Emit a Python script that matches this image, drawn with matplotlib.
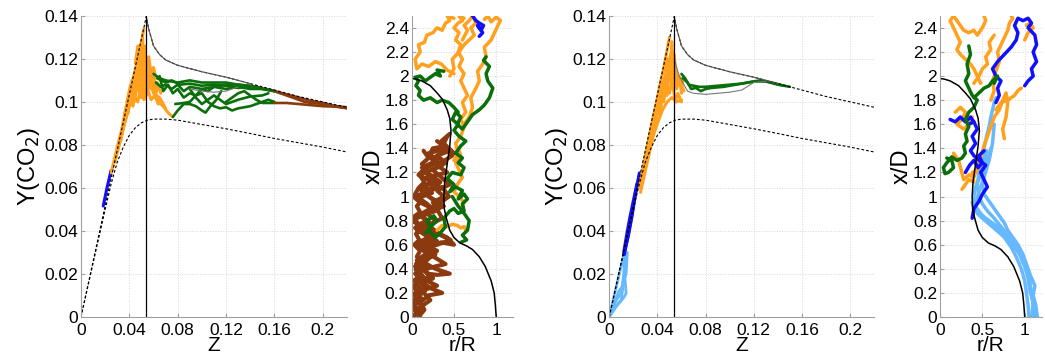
import numpy as np
import matplotlib
matplotlib.use('Agg')
import matplotlib.pyplot as plt

plt.rcParams['font.family'] = ['Liberation Sans', 'DejaVu Sans']

# colours
ORANGE = '#ffa01e'
GREEN = '#0a6e0a'
BROWN = '#8b3a0f'
BLUE = '#1010ff'
LBLUE = '#66b8ff'

# ---- mixture fraction space: reference curves ----
Z_stoich = 0.054
Z_upper = [0, 0.054, 0.056, 0.06, 0.065, 0.07, 0.08, 0.1, 0.12, 0.14, 0.16, 0.18, 0.2, 0.22]
Y_upper = [0, 0.1396, 0.134, 0.126, 0.122, 0.1195, 0.117, 0.114, 0.1115, 0.1085, 0.1055, 0.1025, 0.1, 0.0975]
Z_lower = [0, 0.01, 0.02, 0.025, 0.03, 0.035, 0.04, 0.045, 0.05, 0.055, 0.06, 0.07,
           0.08, 0.1, 0.12, 0.14, 0.16, 0.18, 0.2, 0.22]
Y_lower = [0, 0.025, 0.05, 0.062, 0.072, 0.079, 0.0845, 0.088, 0.0903, 0.0915, 0.092, 0.092,
           0.0915, 0.0895, 0.0875, 0.0853, 0.083, 0.081, 0.079, 0.0767]
Z_solid = [0.054, 0.056, 0.06, 0.065, 0.07, 0.08, 0.1, 0.12, 0.14]
Y_solid = [0.1396, 0.134, 0.126, 0.122, 0.1195, 0.117, 0.114, 0.1115, 0.1085]

# ---- panel 1 trajectories (Z, Y) ----
p1_blue = [([0.0184, 0.0215, 0.0248], [0.0516, 0.06, 0.068])]
p1_orange = [
    ([0.025, 0.03, 0.034, 0.037, 0.041, 0.044, 0.047, 0.05, 0.052],
     [0.067, 0.079, 0.088, 0.097, 0.106, 0.113, 0.12, 0.128, 0.134]),
    ([0.028, 0.033, 0.036, 0.04, 0.043, 0.046, 0.049, 0.051, 0.053, 0.055, 0.058, 0.061, 0.064, 0.068, 0.072, 0.076],
     [0.072, 0.083, 0.09, 0.098, 0.104, 0.11, 0.117, 0.122, 0.118, 0.114, 0.108, 0.104, 0.1, 0.098, 0.095, 0.093]),
    ([0.038, 0.041, 0.043, 0.046, 0.048, 0.05, 0.051, 0.053, 0.054, 0.056, 0.058, 0.06, 0.062, 0.064],
     [0.1, 0.108, 0.104, 0.116, 0.108, 0.124, 0.11, 0.126, 0.108, 0.118, 0.106, 0.112, 0.104, 0.108]),
    ([0.04, 0.044, 0.047, 0.05, 0.052, 0.055, 0.058, 0.061, 0.064, 0.067],
     [0.099, 0.103, 0.1, 0.108, 0.101, 0.106, 0.101, 0.103, 0.099, 0.1]),
    ([0.045, 0.047, 0.049, 0.051, 0.052, 0.053, 0.055, 0.057, 0.059],
     [0.118, 0.126, 0.112, 0.13, 0.114, 0.12, 0.11, 0.114, 0.11]),
    ([0.042, 0.045, 0.048, 0.05, 0.052, 0.054, 0.057, 0.06, 0.063, 0.066],
     [0.11, 0.104, 0.114, 0.102, 0.112, 0.103, 0.109, 0.107, 0.109, 0.104]),
    ([0.036, 0.04, 0.043, 0.046, 0.049, 0.052, 0.054, 0.056, 0.058, 0.06, 0.062],
     [0.094, 0.103, 0.098, 0.108, 0.104, 0.119, 0.115, 0.121, 0.113, 0.116, 0.111]),
    ([0.03, 0.034, 0.037, 0.04, 0.043, 0.045, 0.048, 0.05],
     [0.077, 0.086, 0.092, 0.1, 0.107, 0.103, 0.112, 0.107]),
    ([0.033, 0.036, 0.039, 0.041, 0.044, 0.046, 0.049, 0.051, 0.053, 0.056, 0.06, 0.065, 0.07],
     [0.082, 0.092, 0.095, 0.104, 0.1, 0.112, 0.106, 0.118, 0.104, 0.112, 0.104, 0.102, 0.097]),
]
p1_green = [
    ([0.06, 0.065, 0.07, 0.08, 0.09, 0.1, 0.11, 0.12, 0.13, 0.14, 0.15, 0.16, 0.165],
     [0.113, 0.111, 0.11, 0.109, 0.11, 0.109, 0.109, 0.109, 0.108, 0.1075, 0.106, 0.105, 0.104]),
    ([0.062, 0.066, 0.07, 0.075, 0.08, 0.085, 0.09, 0.1, 0.11, 0.12, 0.13, 0.14, 0.15, 0.16],
     [0.109, 0.107, 0.108, 0.106, 0.108, 0.105, 0.107, 0.106, 0.107, 0.106, 0.107, 0.106, 0.106, 0.105]),
    ([0.065, 0.068, 0.072, 0.076, 0.08, 0.085, 0.09, 0.095, 0.1, 0.105, 0.11, 0.12, 0.13, 0.145, 0.16],
     [0.112, 0.105, 0.108, 0.104, 0.106, 0.102, 0.104, 0.103, 0.106, 0.105, 0.107, 0.108, 0.108, 0.107, 0.105]),
    ([0.076, 0.08, 0.085, 0.09, 0.095, 0.1, 0.103, 0.107, 0.112, 0.116],
     [0.093, 0.096, 0.099, 0.099, 0.098, 0.096, 0.095, 0.098, 0.101, 0.105]),
    ([0.078, 0.085, 0.09, 0.095, 0.1, 0.105, 0.11, 0.115, 0.12, 0.125, 0.13, 0.14, 0.15, 0.155, 0.16],
     [0.099, 0.0995, 0.1, 0.103, 0.104, 0.1, 0.098, 0.097, 0.0975, 0.096, 0.097, 0.098, 0.1, 0.101, 0.1]),
    ([0.09, 0.095, 0.1, 0.105, 0.11, 0.115, 0.12, 0.13, 0.14, 0.15, 0.155],
     [0.106, 0.102, 0.099, 0.101, 0.103, 0.101, 0.099, 0.101, 0.1025, 0.103, 0.104]),
    ([0.12, 0.125, 0.13, 0.135, 0.14, 0.145, 0.15, 0.16],
     [0.1, 0.102, 0.104, 0.105, 0.103, 0.101, 0.0995, 0.0995]),
    ([0.063, 0.07, 0.075, 0.082, 0.09, 0.1, 0.11, 0.12, 0.13, 0.14],
     [0.111, 0.109, 0.11, 0.108, 0.1085, 0.1075, 0.108, 0.1075, 0.1065, 0.1068]),
]
p1_brown = [
    ([0.16, 0.17, 0.18, 0.19, 0.2, 0.21, 0.22], [0.105, 0.1035, 0.102, 0.1005, 0.0995, 0.098, 0.097]),
    ([0.16, 0.17, 0.18, 0.19, 0.2, 0.21, 0.22], [0.0995, 0.0995, 0.099, 0.0985, 0.098, 0.0978, 0.0972]),
    ([0.165, 0.175, 0.185, 0.19, 0.2, 0.21, 0.22], [0.104, 0.102, 0.1, 0.0995, 0.099, 0.098, 0.0975]),
]
p1_gray = ([0.09, 0.1, 0.11, 0.12, 0.13], [0.106, 0.105, 0.1045, 0.105, 0.107])

# ---- panel 3 trajectories (Z, Y) ----
p3_lblue = [
    ([0, 0.005, 0.01, 0.013], [0, 0.012, 0.024, 0.03]),
    ([0, 0.006, 0.012, 0.014, 0.013, 0.014, 0.012], [0, 0.005, 0.009, 0.011, 0.018, 0.024, 0.03]),
    ([0.002, 0.008, 0.012, 0.013, 0.011], [0.003, 0.012, 0.015, 0.022, 0.026]),
    ([0.004, 0.01, 0.012, 0.014, 0.015], [0.004, 0.008, 0.017, 0.02, 0.03]),
    ([0.001, 0.006, 0.01, 0.012, 0.013], [0.002, 0.008, 0.011, 0.02, 0.028]),
]
p3_blue = [
    ([0.0125, 0.015, 0.018, 0.021, 0.024, 0.025], [0.029, 0.036, 0.045, 0.055, 0.064, 0.067]),
    ([0.013, 0.016, 0.019, 0.022, 0.025], [0.031, 0.038, 0.047, 0.058, 0.066]),
    ([0.012, 0.015, 0.017, 0.02, 0.023], [0.03, 0.04, 0.046, 0.054, 0.062]),
]
p3_orange = [
    ([0.025, 0.03, 0.035, 0.04, 0.045, 0.05], [0.06, 0.075, 0.089, 0.102, 0.115, 0.13]),
    ([0.026, 0.03, 0.034, 0.037, 0.04, 0.044, 0.048, 0.052, 0.056, 0.06],
     [0.058, 0.068, 0.078, 0.085, 0.09, 0.096, 0.1, 0.102, 0.1, 0.101]),
    ([0.03, 0.034, 0.038, 0.041, 0.044, 0.047, 0.05, 0.052, 0.054, 0.056, 0.06, 0.062],
     [0.072, 0.082, 0.093, 0.1, 0.107, 0.113, 0.12, 0.124, 0.118, 0.112, 0.108, 0.105]),
    ([0.035, 0.039, 0.042, 0.045, 0.048, 0.05, 0.052, 0.054, 0.056, 0.058, 0.06],
     [0.085, 0.096, 0.094, 0.106, 0.103, 0.116, 0.108, 0.122, 0.106, 0.112, 0.104]),
    ([0.04, 0.043, 0.046, 0.048, 0.05, 0.052, 0.053, 0.055, 0.057, 0.059, 0.061],
     [0.1, 0.11, 0.105, 0.12, 0.11, 0.128, 0.112, 0.116, 0.108, 0.111, 0.109]),
    ([0.045, 0.048, 0.05, 0.052, 0.055, 0.057, 0.06], [0.1, 0.108, 0.104, 0.11, 0.1, 0.104, 0.1]),
    ([0.028, 0.032, 0.036, 0.038, 0.042, 0.046, 0.049], [0.068, 0.077, 0.084, 0.092, 0.098, 0.108, 0.11]),
    ([0.032, 0.035, 0.038, 0.04, 0.043, 0.046, 0.048, 0.051, 0.054, 0.058],
     [0.074, 0.084, 0.088, 0.096, 0.1, 0.104, 0.114, 0.116, 0.11, 0.108]),
]
p3_green = [
    ([0.06, 0.063, 0.066, 0.07, 0.075, 0.08, 0.09, 0.1, 0.11, 0.12, 0.13, 0.14, 0.15],
     [0.113, 0.111, 0.108, 0.1075, 0.107, 0.107, 0.1075, 0.108, 0.1085, 0.1095, 0.1095, 0.108, 0.107]),
    ([0.061, 0.065, 0.068, 0.072, 0.076, 0.08, 0.085, 0.095, 0.105, 0.115, 0.125, 0.135, 0.145],
     [0.111, 0.109, 0.106, 0.1065, 0.105, 0.106, 0.1065, 0.107, 0.108, 0.109, 0.11, 0.109, 0.1075]),
]
p3_gray = ([0.054, 0.058, 0.063, 0.065, 0.07, 0.08, 0.09, 0.1, 0.11, 0.12, 0.13],
           [0.12, 0.112, 0.107, 0.105, 0.104, 0.1035, 0.104, 0.1045, 0.1055, 0.109, 0.1095])

# ---- physical space: r/R vs x/D ----
r_line = [1.0, 0.99, 0.976, 0.94, 0.87, 0.8, 0.72, 0.65, 0.57, 0.5, 0.45, 0.41, 0.385, 0.38,
          0.39, 0.42, 0.45, 0.465, 0.45, 0.42, 0.36, 0.3, 0.22, 0.12, 0.05, 0.0]
xD_line = [0.0, 0.1, 0.2, 0.3, 0.42, 0.5, 0.56, 0.59, 0.615, 0.66, 0.72, 0.82, 0.9, 1.0,
           1.12, 1.27, 1.42, 1.55, 1.65, 1.72, 1.81, 1.86, 1.92, 1.96, 1.975, 1.98]

p2_brown = [
    ([0.02, 0.06, 0.03, 0.08, 0.02, 0.1, 0.05, 0.14, 0.08, 0.04, 0.12, 0.06, 0.1, 0.03, 0.09,
      0.05, 0.13, 0.07, 0.02, 0.1, 0.06, 0.12, 0.04, 0.08, 0.15, 0.1, 0.18, 0.12, 0.2, 0.14],
     [0.0, 0.05, 0.1, 0.14, 0.19, 0.23, 0.28, 0.32, 0.37, 0.42, 0.46, 0.5, 0.55, 0.6, 0.64,
      0.69, 0.73, 0.78, 0.83, 0.87, 0.92, 0.97, 1.02, 1.07, 1.12, 1.17, 1.22, 1.27, 1.32, 1.38]),
    ([0.08, 0.15, 0.1, 0.2, 0.36, 0.22, 0.12, 0.25, 0.18, 0.3, 0.45, 0.28, 0.15, 0.22, 0.3, 0.2,
      0.35, 0.5, 0.42, 0.3, 0.2, 0.28, 0.18, 0.32, 0.25, 0.38, 0.3, 0.45, 0.35, 0.25, 0.4, 0.3,
      0.45, 0.5, 0.38, 0.42],
     [0.0, 0.06, 0.12, 0.18, 0.2, 0.24, 0.28, 0.32, 0.36, 0.35, 0.36, 0.4, 0.45, 0.5, 0.55, 0.58,
      0.62, 0.6, 0.66, 0.7, 0.74, 0.8, 0.86, 0.9, 0.95, 1.0, 1.05, 1.1, 1.16, 1.22, 1.28, 1.34,
      1.38, 1.36, 1.44, 1.5]),
    ([0.0, 0.04, 0.12, 0.05, 0.2, 0.1, 0.25, 0.15, 0.05, 0.18, 0.28, 0.15, 0.08, 0.2, 0.3, 0.1,
      0.0, 0.15, 0.25, 0.1, 0.02, 0.2, 0.32, 0.22, 0.08, 0.15, 0.3, 0.2, 0.25, 0.4, 0.35, 0.45],
     [0.05, 0.1, 0.15, 0.2, 0.25, 0.3, 0.33, 0.38, 0.44, 0.48, 0.52, 0.57, 0.62, 0.66, 0.7, 0.76,
      0.8, 0.85, 0.9, 0.95, 1.0, 1.04, 1.08, 1.13, 1.18, 1.23, 1.28, 1.33, 1.4, 1.42, 1.46, 1.52]),
    ([0.05, 0.12, 0.06, 0.16, 0.1, 0.22, 0.14, 0.06, 0.18, 0.1, 0.26, 0.16, 0.04, 0.2, 0.12,
      0.28, 0.18, 0.08, 0.24, 0.14, 0.34, 0.22, 0.12, 0.3, 0.2, 0.42, 0.3],
     [0.02, 0.08, 0.16, 0.22, 0.29, 0.34, 0.4, 0.47, 0.53, 0.6, 0.64, 0.68, 0.74, 0.79, 0.84,
      0.88, 0.94, 0.99, 1.03, 1.09, 1.12, 1.18, 1.24, 1.3, 1.36, 1.4, 1.46]),
    ([0.0, 0.08, 0.02, 0.12, 0.04, 0.2, 0.08, 0.24, 0.12, 0.3, 0.18, 0.06, 0.22, 0.1, 0.38,
      0.24, 0.14, 0.32, 0.18, 0.42, 0.3, 0.48, 0.36],
     [0.12, 0.18, 0.26, 0.3, 0.36, 0.41, 0.46, 0.52, 0.58, 0.63, 0.68, 0.72, 0.78, 0.84, 0.92,
      0.98, 1.04, 1.1, 1.16, 1.2, 1.26, 1.34, 1.42]),
    ([0.02, 0.1, 0.05, 0.15, 0.08, 0.2, 0.12, 0.04, 0.16, 0.26, 0.14, 0.06, 0.18, 0.1, 0.22,
      0.32, 0.2, 0.1, 0.26, 0.16, 0.36, 0.26, 0.4],
     [0.3, 0.34, 0.39, 0.43, 0.48, 0.52, 0.56, 0.6, 0.63, 0.67, 0.71, 0.76, 0.8, 0.85, 0.9,
      0.95, 1.0, 1.06, 1.14, 1.2, 1.26, 1.32, 1.38]),
    ([0.1, 0.04, 0.14, 0.22, 0.12, 0.3, 0.18, 0.08, 0.28, 0.4, 0.26, 0.14, 0.3, 0.46, 0.34,
      0.2, 0.36, 0.28, 0.44, 0.36],
     [0.0, 0.06, 0.1, 0.14, 0.22, 0.26, 0.3, 0.38, 0.42, 0.44, 0.5, 0.56, 0.6, 0.64, 0.68,
      0.76, 0.82, 0.92, 1.0, 1.08]),
]
p2_orange = [
    ([0.3, 0.36, 0.42, 0.48, 0.54, 0.58, 0.62, 0.64], [0.72, 0.76, 0.75, 0.77, 0.76, 0.74, 0.75, 0.72]),
    ([0.5, 0.55, 0.52, 0.58, 0.62, 0.58, 0.64, 0.6, 0.66, 0.62, 0.58, 0.62, 0.56, 0.6, 0.55, 0.58,
      0.52, 0.56, 0.5, 0.55, 0.6, 0.56, 0.62],
     [1.3, 1.36, 1.44, 1.5, 1.58, 1.64, 1.7, 1.78, 1.84, 1.9, 1.96, 2.02, 2.08, 2.14, 2.2, 2.26,
      2.3, 2.36, 2.4, 2.44, 2.46, 2.5, 2.48]),
    ([0.5, 0.42, 0.35, 0.28, 0.2, 0.12, 0.06, 0.04, 0.1, 0.08, 0.15, 0.18, 0.25, 0.3, 0.36, 0.4,
      0.45, 0.42, 0.5],
     [2.02, 2.05, 2.1, 2.12, 2.08, 2.1, 2.06, 2.14, 2.2, 2.26, 2.28, 2.34, 2.36, 2.4, 2.38, 2.44,
      2.46, 2.5, 2.48]),
    ([0.62, 0.68, 0.72, 0.7, 0.76, 0.8, 0.78, 0.84, 0.88, 0.86, 0.94, 0.98, 1.02, 1.05, 1.0, 0.94,
      0.9, 0.86],
     [1.6, 1.66, 1.74, 1.82, 1.9, 1.96, 2.04, 2.1, 2.16, 2.24, 2.3, 2.36, 2.42, 2.46, 2.49, 2.45,
      2.5, 2.47]),
    ([0.45, 0.5, 0.48, 0.56, 0.62, 0.68, 0.74, 0.7, 0.76, 0.72, 0.68, 0.62, 0.66, 0.6],
     [2.0, 2.06, 2.14, 2.2, 2.26, 2.3, 2.34, 2.4, 2.44, 2.5, 2.46, 2.42, 2.38, 2.3]),
    ([0.55, 0.58, 0.52, 0.56, 0.6, 0.54, 0.5, 0.56, 0.62, 0.58],
     [1.4, 1.34, 1.28, 1.22, 1.16, 1.1, 1.04, 1.0, 0.95, 0.9]),
]
p2_green = [
    ([0.16, 0.22, 0.18, 0.26, 0.3, 0.24, 0.2, 0.28, 0.34, 0.4, 0.38, 0.45, 0.5, 0.55, 0.62, 0.6,
      0.66, 0.62, 0.55, 0.6, 0.52, 0.45, 0.5, 0.42, 0.48, 0.58, 0.62, 0.55, 0.6, 0.52, 0.58, 0.64,
      0.56, 0.5, 0.55, 0.48, 0.52, 0.58, 0.54, 0.6, 0.66, 0.72, 0.8, 0.86, 0.92, 0.96, 0.9, 0.88,
      0.92, 0.85, 0.88],
     [0.7, 0.74, 0.8, 0.84, 0.8, 0.76, 0.72, 0.66, 0.7, 0.75, 0.82, 0.88, 0.9, 0.86, 0.88, 0.94,
      0.98, 1.02, 0.98, 1.05, 1.08, 1.04, 1.1, 1.15, 1.2, 1.18, 1.24, 1.28, 1.32, 1.36, 1.42, 1.46,
      1.5, 1.55, 1.6, 1.64, 1.7, 1.66, 1.6, 1.56, 1.62, 1.68, 1.72, 1.76, 1.82, 1.9, 1.96, 2.02,
      2.08, 2.13, 2.16]),
    ([0.55, 0.5, 0.44, 0.36, 0.3, 0.22, 0.14, 0.08, 0.1, 0.05, 0.08, 0.04, 0.1, 0.16, 0.22, 0.28,
      0.34, 0.3, 0.38],
     [1.7, 1.74, 1.78, 1.8, 1.78, 1.82, 1.8, 1.84, 1.88, 1.92, 1.96, 1.99, 2.0, 1.96, 1.99, 2.02,
      2.0, 2.05, 2.04]),
    ([0.48, 0.55, 0.62, 0.68, 0.66, 0.6, 0.65, 0.58], [1.0, 0.92, 0.86, 0.8, 0.72, 0.68, 0.64, 0.62]),
]
p2_blue = [([0.72, 0.76, 0.8, 0.85, 0.82, 0.78, 0.84, 0.8], [2.5, 2.46, 2.44, 2.42, 2.38, 2.42, 2.36, 2.33])]

p4_lblue = [
    ([1.12, 1.1, 1.08, 1.06, 1.02, 0.96, 0.88, 0.8, 0.72, 0.64, 0.56, 0.5, 0.46, 0.44, 0.46, 0.5,
      0.52, 0.55, 0.58, 0.6, 0.62, 0.64, 0.66],
     [0.0, 0.1, 0.2, 0.3, 0.4, 0.5, 0.6, 0.68, 0.75, 0.82, 0.88, 0.94, 1.0, 1.1, 1.2, 1.3, 1.4,
      1.5, 1.58, 1.66, 1.72, 1.78, 1.82]),
    ([1.05, 1.04, 1.02, 1.0, 0.96, 0.9, 0.84, 0.76, 0.66, 0.56, 0.48, 0.42, 0.4, 0.42, 0.48, 0.52, 0.55],
     [0.0, 0.1, 0.2, 0.3, 0.4, 0.5, 0.58, 0.66, 0.73, 0.8, 0.86, 0.92, 1.0, 1.08, 1.18, 1.28, 1.38]),
    ([1.15, 1.13, 1.1, 1.12, 1.07, 1.02, 0.98, 0.92, 0.86, 0.8, 0.76, 0.7, 0.64, 0.58, 0.52, 0.5,
      0.52, 0.56, 0.6],
     [0.0, 0.1, 0.18, 0.26, 0.34, 0.44, 0.52, 0.6, 0.66, 0.72, 0.78, 0.84, 0.9, 0.96, 1.02, 1.1,
      1.2, 1.3, 1.4]),
    ([1.08, 1.1, 1.06, 1.04, 1.0, 0.94, 0.86, 0.78, 0.7, 0.6, 0.5, 0.44, 0.42, 0.46, 0.52, 0.58, 0.62, 0.64],
     [0.0, 0.12, 0.22, 0.32, 0.42, 0.52, 0.6, 0.66, 0.7, 0.76, 0.82, 0.86, 0.94, 1.04, 1.16, 1.3, 1.44, 1.6]),
    ([0.98, 0.95, 0.9, 0.82, 0.74, 0.66, 0.58, 0.5, 0.42, 0.38],
     [0.45, 0.52, 0.58, 0.64, 0.7, 0.76, 0.8, 0.84, 0.88, 0.95]),
]
p4_orange = [
    ([0.16, 0.22, 0.28, 0.34, 0.4, 0.44, 0.48, 0.52, 0.56, 0.6, 0.64, 0.7, 0.74, 0.78, 0.8, 0.78, 0.74, 0.76],
     [1.36, 1.3, 1.14, 1.18, 1.16, 1.24, 1.32, 1.42, 1.5, 1.58, 1.66, 1.72, 1.8, 1.86, 1.78, 1.66, 1.56, 1.48]),
    ([0.6, 0.64, 0.62, 0.66, 0.7, 0.68, 0.72, 0.76, 0.8, 0.82, 0.86, 0.84],
     [1.8, 1.88, 1.96, 2.04, 2.12, 2.2, 2.26, 2.32, 2.38, 2.44, 2.48, 2.5]),
    ([0.48, 0.44, 0.4, 0.36, 0.3, 0.24, 0.2, 0.24, 0.2, 0.16, 0.12, 0.16, 0.22, 0.28, 0.34, 0.4,
      0.44, 0.5, 0.54, 0.52],
     [1.94, 2.0, 2.06, 2.1, 2.14, 2.18, 2.22, 2.28, 2.34, 2.4, 2.46, 2.5, 2.44, 2.38, 2.36, 2.38,
      2.34, 2.4, 2.46, 2.5]),
    ([0.66, 0.72, 0.8, 0.88, 0.92, 0.96], [1.72, 1.78, 1.8, 1.84, 1.88, 1.9]),
    ([1.0, 1.04, 1.1, 1.06, 1.02], [2.3, 2.36, 2.4, 2.44, 2.42]),
    ([0.18, 0.24, 0.3, 0.26, 0.2, 0.28, 0.34, 0.38], [1.7, 1.74, 1.7, 1.64, 1.6, 1.56, 1.6, 1.66]),
    ([0.26, 0.3, 0.34, 0.4, 0.38, 0.44, 0.48], [1.06, 1.1, 1.14, 1.12, 1.2, 1.22, 1.28]),
    ([0.4, 0.46, 0.5, 0.56, 0.54, 0.6, 0.58, 0.64], [1.94, 2.0, 2.06, 2.1, 2.16, 2.22, 2.28, 2.34]),
]
p4_blue = [
    ([0.38, 0.4, 0.46, 0.5, 0.56, 0.52, 0.48, 0.54, 0.46, 0.4, 0.36, 0.42, 0.38, 0.44, 0.4],
     [0.82, 0.9, 0.96, 1.02, 1.08, 1.14, 1.2, 1.26, 1.3, 1.34, 1.38, 1.44, 1.5, 1.56, 1.62]),
    ([0.12, 0.18, 0.24, 0.3, 0.36, 0.4, 0.34], [1.64, 1.62, 1.66, 1.62, 1.66, 1.62, 1.6]),
    ([0.66, 0.7, 0.68, 0.72, 0.66, 0.62, 0.68, 0.76, 0.84, 0.9, 0.92, 0.88, 0.92, 0.98, 1.04, 1.08,
      1.04, 1.12, 1.14, 1.1, 1.14, 1.08, 1.1, 1.04, 1.0],
     [1.78, 1.84, 1.9, 1.96, 2.0, 2.06, 2.12, 2.18, 2.24, 2.3, 2.36, 2.42, 2.48, 2.46, 2.48, 2.44,
      2.4, 2.34, 2.26, 2.2, 2.12, 2.06, 2.0, 1.96, 1.92]),
    ([0.3, 0.35, 0.4, 0.45, 0.5, 0.46, 0.52], [1.2, 1.26, 1.3, 1.24, 1.28, 1.34, 1.38]),
]
p4_green = [
    ([0.34, 0.36, 0.32, 0.34, 0.3, 0.34, 0.38, 0.44, 0.4, 0.34, 0.3, 0.34, 0.3, 0.32, 0.28, 0.3,
      0.26, 0.2, 0.14, 0.08, 0.04, 0.06, 0.1, 0.16, 0.14, 0.08],
     [2.25, 2.18, 2.1, 2.02, 1.96, 1.9, 1.84, 1.8, 1.74, 1.7, 1.64, 1.58, 1.52, 1.46, 1.42, 1.36,
      1.32, 1.3, 1.33, 1.28, 1.24, 1.19, 1.2, 1.24, 1.3, 1.32]),
    ([0.4, 0.46, 0.52, 0.58, 0.62, 0.68, 0.64], [1.82, 1.86, 1.9, 1.92, 1.96, 2.0, 1.94]),
]

z_ticks = [0, 0.04, 0.08, 0.12, 0.16, 0.2]
z_labels = ['0', '0.04', '0.08', '0.12', '0.16', '0.2']
y_ticks = [0, 0.02, 0.04, 0.06, 0.08, 0.1, 0.12, 0.14]
y_labels = ['0', '0.02', '0.04', '0.06', '0.08', '0.1', '0.12', '0.14']
r_ticks = [0, 0.5, 1]
r_labels = ['0', '0.5', '1']
xd_ticks = [0, 0.2, 0.4, 0.6, 0.8, 1, 1.2, 1.4, 1.6, 1.8, 2, 2.2, 2.4]
xd_labels = ['0', '0.2', '0.4', '0.6', '0.8', '1', '1.2', '1.4', '1.6', '1.8', '2', '2.2', '2.4']


def style(ax):
    for s in ['top', 'right']:
        ax.spines[s].set_visible(False)
    for s in ['left', 'bottom']:
        ax.spines[s].set_color('#a0a0a0')
        ax.spines[s].set_linewidth(0.8)
    ax.grid(True, linestyle=':', color='#d8d8d8', linewidth=0.7)
    ax.set_axisbelow(True)
    ax.tick_params(direction='in', length=3, color='#a0a0a0', labelsize=12.5)
    ax.tick_params(axis='y', pad=2)
    ax.tick_params(axis='x', pad=4)


def draw_paths(ax, paths, color, lw):
    for x, y in paths:
        ax.plot(x, y, color=color, lw=lw, solid_joinstyle='round', solid_capstyle='round')


def mix_panel(ax, blue, orange, green, brown, gray, lblue=None):
    if lblue:
        draw_paths(ax, lblue, LBLUE, 2.0)
    draw_paths(ax, blue, BLUE, 2.2)
    draw_paths(ax, orange, ORANGE, 2.2)
    draw_paths(ax, green, GREEN, 1.9)
    draw_paths(ax, brown, BROWN, 1.9)
    ax.plot(gray[0], gray[1], color='#777777', lw=0.8)
    ax.plot(Z_upper, Y_upper, color='black', lw=0.8, dashes=(2.5, 1.8))
    ax.plot(Z_lower, Y_lower, color='black', lw=0.8, dashes=(2.5, 1.8))
    ax.plot(Z_solid, Y_solid, color='#555555', lw=0.8)
    ax.plot([Z_stoich, Z_stoich], [0, 0.14], color='black', lw=0.9)
    ax.set_xlim(0, 0.22)
    ax.set_ylim(0, 0.14)
    ax.set_xticks(z_ticks)
    ax.set_xticklabels(z_labels)
    ax.set_yticks(y_ticks)
    ax.set_yticklabels(y_labels)
    ax.set_xlabel('Z', fontsize=15, labelpad=-1)
    ax.set_ylabel('Y(CO$_2$)', fontsize=17, labelpad=2)
    style(ax)


def phys_panel(ax, layers):
    for paths, color in layers:
        draw_paths(ax, paths, color, 3.0 if color == BROWN else 2.5)
    ax.plot(r_line, xD_line, color='black', lw=1.1)
    ax.set_xlim(0, 1.2)
    ax.set_ylim(0, 2.5)
    ax.set_xticks(r_ticks)
    ax.set_xticklabels(r_labels)
    ax.set_yticks(xd_ticks)
    ax.set_yticklabels(xd_labels)
    ax.set_xlabel('r/R', fontsize=15, labelpad=-1)
    ax.set_ylabel('x/D', fontsize=17, labelpad=0)
    style(ax)


fig = plt.figure(figsize=(10.45, 3.6), dpi=100)
ax1 = fig.add_axes([0.0775, 0.1194, 0.2545, 0.8366])
ax2 = fig.add_axes([0.394, 0.1194, 0.097, 0.8366])
ax3 = fig.add_axes([0.583, 0.1194, 0.2536, 0.8366])
ax4 = fig.add_axes([0.8995, 0.1194, 0.0973, 0.8366])

mix_panel(ax1, p1_blue, p1_orange, p1_green, p1_brown, p1_gray)
phys_panel(ax2, [(p2_brown, BROWN), (p2_orange, ORANGE), (p2_green, GREEN), (p2_blue, BLUE)])
mix_panel(ax3, p3_blue, p3_orange, p3_green, [], p3_gray, lblue=p3_lblue)
phys_panel(ax4, [(p4_lblue, LBLUE), (p4_orange, ORANGE), (p4_blue, BLUE), (p4_green, GREEN)])

fig.savefig('out.png', dpi=100)
